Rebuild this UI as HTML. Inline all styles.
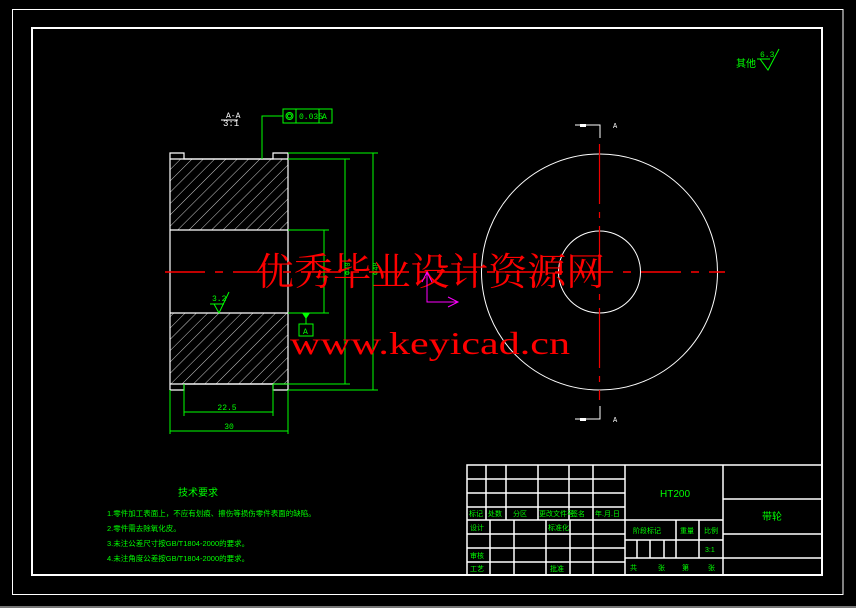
<!DOCTYPE html>
<html><head><meta charset="utf-8"><style>
html,body{margin:0;padding:0;background:#000;width:856px;height:608px;overflow:hidden}
svg{display:block}
.s{font-family:"Liberation Sans","Noto Sans CJK SC",sans-serif}
.m{font-family:"Liberation Mono","Noto Sans CJK SC",monospace}
</style></head><body>
<svg width="856" height="608" viewBox="0 0 856 608" xmlns="http://www.w3.org/2000/svg">
<rect x="0" y="0" width="856" height="608" fill="#000"/>
<rect x="0" y="606" width="856" height="2" fill="#777"/>
<rect x="12.5" y="9.5" width="830.5" height="585" fill="none" stroke="#fff" stroke-width="1"/>
<rect x="32" y="28" width="790" height="547" fill="none" stroke="#fff" stroke-width="2"/>

<defs>
<pattern id="h" patternUnits="userSpaceOnUse" width="8" height="8" patternTransform="rotate(45)">
<line x1="0" y1="0" x2="0" y2="8" stroke="#fff" stroke-width="0.8"/>
</pattern>
</defs>
<rect x="170" y="159" width="118" height="71" fill="url(#h)"/>
<rect x="170" y="313" width="118" height="71" fill="url(#h)"/>
<g fill="none" stroke="#fff" stroke-width="1.2">
<polyline points="170,390 170,153 184,153 184,159 273,159 273,153 288,153 288,390 273,390 273,384 184,384 184,390 170,390"/>
<line x1="170" y1="230" x2="288" y2="230"/>
<line x1="170" y1="313" x2="288" y2="313"/>
<line x1="170" y1="159" x2="288" y2="159"/>
<line x1="170" y1="384" x2="288" y2="384"/>
</g>
<g stroke="#0f0" stroke-width="1" fill="none">
<line x1="288" y1="153" x2="378" y2="153"/>
<line x1="288" y1="159" x2="350" y2="159"/>
<line x1="288" y1="230" x2="329" y2="230"/>
<line x1="288" y1="313" x2="329" y2="313"/>
<line x1="273" y1="384" x2="350" y2="384"/>
<line x1="288" y1="390" x2="378" y2="390"/>
<line x1="373" y1="153" x2="373" y2="390"/>
<line x1="345" y1="159" x2="345" y2="384"/>
<line x1="324" y1="230" x2="324" y2="313"/>
<line x1="184" y1="384" x2="184" y2="416"/>
<line x1="273" y1="384" x2="273" y2="416"/>
<line x1="170" y1="390" x2="170" y2="434"/>
<line x1="288" y1="390" x2="288" y2="434"/>
<line x1="184" y1="412" x2="273" y2="412"/>
<line x1="170" y1="431" x2="288" y2="431"/>
<polyline points="262,159 262,116 283,116"/>
<rect x="283" y="109" width="49" height="14"/>
<line x1="296" y1="109" x2="296" y2="123"/>
<line x1="319" y1="109" x2="319" y2="123"/>
<circle cx="289.5" cy="116" r="3.5"/>
<circle cx="289.5" cy="116" r="2"/>
<rect x="299" y="324" width="14" height="12"/>
<line x1="306" y1="313" x2="306" y2="324"/>
<polyline points="214,304 219,313 229,292"/>
<line x1="210" y1="304" x2="224" y2="304"/>
<polyline points="760,59 768,70 779,49"/>
<line x1="757" y1="59" x2="770" y2="59"/>
</g>
<polygon points="302,313 310,313 306,319" fill="#0f0"/>
<g fill="#0f0" font-size="8" class="m">
<text x="227" y="410" text-anchor="middle">22.5</text>
<text x="229" y="429" text-anchor="middle">30</text>
<text x="299" y="119">0.035</text>
<text x="322" y="119">A</text>
<text x="303" y="334">A</text>
<text x="212" y="301">3.2</text>
<text x="760" y="57">6.3</text>
<text x="736" y="67" font-size="10">其他</text>
<text x="226" y="118" fill="#fff" font-size="8">A-A</text>
<text x="223" y="126" fill="#fff" font-size="9">3:1</text>
<text x="350" y="275" font-size="7" transform="rotate(-90 350 275)">Φ40</text>
<text x="378" y="275" font-size="7" transform="rotate(-90 378 275)">Φ48</text>
</g>
<line x1="221" y1="120" x2="238" y2="120" stroke="#fff" stroke-width="1"/>

<g fill="none" stroke="#fff" stroke-width="1">
<circle cx="599.5" cy="272" r="118"/>
<circle cx="599.5" cy="272" r="41"/>
<polyline points="575,125 600,125 600,138"/>
<polyline points="575,419 600,419 600,406"/>
</g>
<rect x="580" y="124" width="6" height="3" fill="#fff"/>
<rect x="580" y="418" width="6" height="3" fill="#fff"/>
<text x="613" y="128" fill="#fff" font-size="7" class="m">A</text>
<text x="613" y="422" fill="#fff" font-size="7" class="m">A</text>
<line x1="599.5" y1="144" x2="599.5" y2="400" stroke="#e00" stroke-width="1.2" stroke-dasharray="60,8,6,8"/>

<line x1="165" y1="272" x2="725" y2="272" stroke="#f00" stroke-width="1.5" stroke-dasharray="40,10,8,10"/>
<text x="255" y="285" fill="#f00" font-size="38" textLength="350" lengthAdjust="spacingAndGlyphs" style="font-family:'Noto Serif CJK SC','Noto Sans CJK SC',serif">优秀毕业设计资源网</text>
<text x="290" y="354" fill="#f00" font-size="32" textLength="280" lengthAdjust="spacingAndGlyphs" style="font-family:'Liberation Serif',serif">www.keyicad.cn</text>
<polyline points="427,272 427,302 458,302" fill="none" stroke="#f0f" stroke-width="1"/>
<polyline points="422,282 427,272 432,282" fill="none" stroke="#f0f" stroke-width="1"/>
<polyline points="448,297 458,302 448,307" fill="none" stroke="#f0f" stroke-width="1"/>

<g fill="#0f0" font-size="7.5" class="s">
<text x="178" y="496" font-size="10">技术要求</text>
<text x="107" y="516">1.零件加工表面上，不应有划痕、擦伤等损伤零件表面的缺陷。</text>
<text x="107" y="531">2.零件需去除氧化皮。</text>
<text x="107" y="546">3.未注公差尺寸按GB/T1804-2000的要求。</text>
<text x="107" y="561">4.未注角度公差按GB/T1804-2000的要求。</text>
</g>

<g stroke="#fff" stroke-width="1.5" fill="none">
<rect x="467" y="465" width="355" height="110"/>
<line x1="625" y1="465" x2="625" y2="575"/>
<line x1="723" y1="465" x2="723" y2="575"/>
<line x1="467" y1="479" x2="625" y2="479"/>
<line x1="467" y1="493" x2="625" y2="493"/>
<line x1="467" y1="507" x2="625" y2="507"/>
<line x1="467" y1="520" x2="625" y2="520"/>
<line x1="467" y1="534" x2="625" y2="534"/>
<line x1="467" y1="548" x2="625" y2="548"/>
<line x1="467" y1="562" x2="625" y2="562"/>
<line x1="486" y1="465" x2="486" y2="520"/>
<line x1="506" y1="465" x2="506" y2="520"/>
<line x1="538" y1="465" x2="538" y2="520"/>
<line x1="569" y1="465" x2="569" y2="520"/>
<line x1="593" y1="465" x2="593" y2="575"/>
<line x1="490" y1="520" x2="490" y2="575"/>
<line x1="514" y1="520" x2="514" y2="575"/>
<line x1="546" y1="520" x2="546" y2="575"/>
<line x1="570" y1="520" x2="570" y2="575"/>
<line x1="625" y1="520" x2="723" y2="520"/>
<line x1="625" y1="540" x2="723" y2="540"/>
<line x1="625" y1="558" x2="723" y2="558"/>
<line x1="676" y1="520" x2="676" y2="558"/>
<line x1="699" y1="520" x2="699" y2="558"/>
<line x1="637" y1="540" x2="637" y2="558"/>
<line x1="650" y1="540" x2="650" y2="558"/>
<line x1="664" y1="540" x2="664" y2="558"/>
<line x1="723" y1="499" x2="822" y2="499"/>
<line x1="723" y1="534" x2="822" y2="534"/>
<line x1="723" y1="558" x2="822" y2="558"/>
</g>
<g fill="#0f0" font-size="7" class="s">
<text x="469" y="516">标记</text><text x="488" y="516">处数</text><text x="513" y="516">分区</text><text x="539" y="516">更改文件号</text><text x="571" y="516">签名</text><text x="595" y="516">年.月.日</text>
<text x="470" y="530">设计</text><text x="548" y="530">标准化</text>
<text x="470" y="558">审核</text>
<text x="470" y="571">工艺</text><text x="550" y="571">批准</text>
<text x="633" y="533">阶段标记</text><text x="680" y="533">重量</text><text x="704" y="533">比例</text>
<text x="705" y="552">3:1</text>
<text x="630" y="570">共</text><text x="658" y="570">张</text><text x="682" y="570">第</text><text x="708" y="570">张</text>
<text x="660" y="497" font-size="10">HT200</text>
<text x="762" y="520" font-size="10">带轮</text>
</g>
</svg>
</body></html>
